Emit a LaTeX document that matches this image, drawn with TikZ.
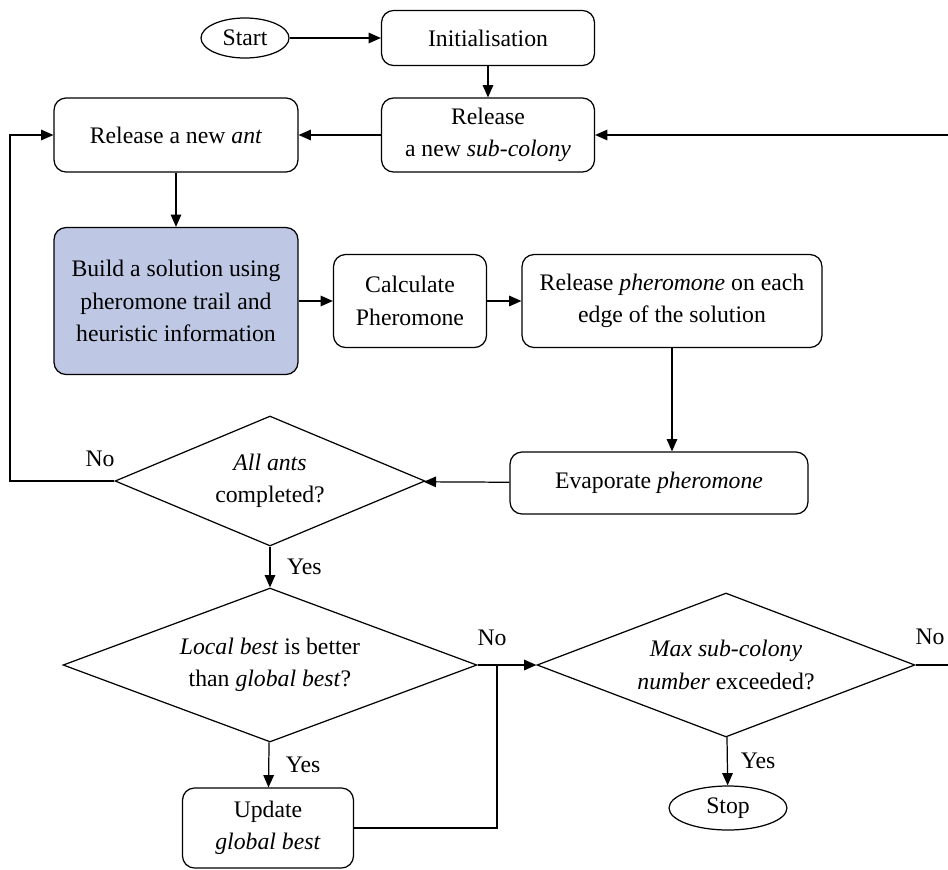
\documentclass[tikz,border=0pt]{standalone}
\usepackage{fontspec}
\setmainfont{Liberation Serif}
\usetikzlibrary{arrows.meta,shapes.geometric}
\definecolor{shadeblue}{RGB}{190,200,228}

\begin{document}
\begin{tikzpicture}[x=0.02cm,y=-0.02cm,>={Triangle[length=7pt,width=6pt]},line width=0.7pt,
                    font=\fontsize{13.5}{18.5}\selectfont,
                    proc node/.style={rectangle,rounded corners=0.24cm,draw,align=center},
                    term node/.style={ellipse,draw,inner sep=0pt},
                    dec node/.style={diamond,draw,align=center,inner sep=0pt}]
  \useasboundingbox (0,0) rectangle (948,870);
  \node[term node,minimum width=1.76cm,minimum height=0.8cm] (start) at (245,38) {Start};
  \node[proc node,minimum width=4.26cm,minimum height=1.1cm] (init) at (488,38) {Initialisation};
  \node[proc node,minimum width=4.26cm,minimum height=1.48cm] (subcol) at (488,135) {Release\\a new \textit{sub-colony}};
  \node[proc node,minimum width=4.88cm,minimum height=1.48cm] (newant) at (176,135) {Release a new \textit{ant}};
  \node[proc node,fill=shadeblue,minimum width=4.88cm,minimum height=2.94cm] (build) at (176,301) {Build a solution using\\pheromone trail and\\heuristic information};
  \node[proc node,minimum width=3.06cm,minimum height=1.86cm] (calc) at (410,301) {Calculate\\Pheromone};
  \node[proc node,minimum width=6cm,minimum height=1.86cm] (relph) at (672,301) {Release \textit{pheromone} on each\\edge of the solution};
  \node[proc node,minimum width=5.96cm,minimum height=1.24cm] (evap) at (659,483) {Evaporate \textit{pheromone}};
  \node[dec node,aspect=2.38,minimum width=6.2cm,minimum height=2.6cm] (allants) at (270,481) {\textit{All ants}\\completed?};
  \node[dec node,aspect=2.69,minimum width=8.28cm,minimum height=3.08cm] (localbest) at (270,665) {\textit{Local best} is better\\than \textit{global best}?};
  \node[proc node,minimum width=3.42cm,minimum height=1.6cm] (update) at (268,828) {Update\\\textit{global best}};
  \node[dec node,aspect=2.62,minimum width=7.56cm,minimum height=2.88cm] (maxsub) at (726,665) {\textit{Max sub-colony}\\\textit{number} exceeded?};
  \node[term node,minimum width=2.36cm,minimum height=0.88cm] (stop) at (728,808) {Stop};

  \coordinate (jn) at (497,665);
  \coordinate (lft) at (10,481);
  \coordinate (rgt) at (965,665);
  \coordinate (rgtup) at (965,135);

  \path[->]
    (start) edge (init)
    (init) edge (subcol)
    (subcol) edge (newant)
    (newant) edge (build)
    (build) edge (calc)
    (calc) edge (relph)
    (relph.south) edge (relph.south |- evap.north)
    (evap) edge (allants)
    (allants) edge node[right,xshift=6pt] {Yes} (localbest)
    (localbest) edge node[right,xshift=6pt] {Yes} (update)
    (localbest.east) edge (maxsub.west)
    (maxsub) edge node[right,xshift=4pt] {Yes} (stop)
    ;
  \draw[->] (allants.west) -- (lft) |- (newant.west);
  \node at (100,459) {No};
  \draw (update.east) -| (jn);
  \node at (492,638) {No};
  \draw[->] (maxsub.east) -- (rgt) -- (rgtup) -- (subcol.east);
  \node at (930,637) {No};
\end{tikzpicture}
\end{document}
